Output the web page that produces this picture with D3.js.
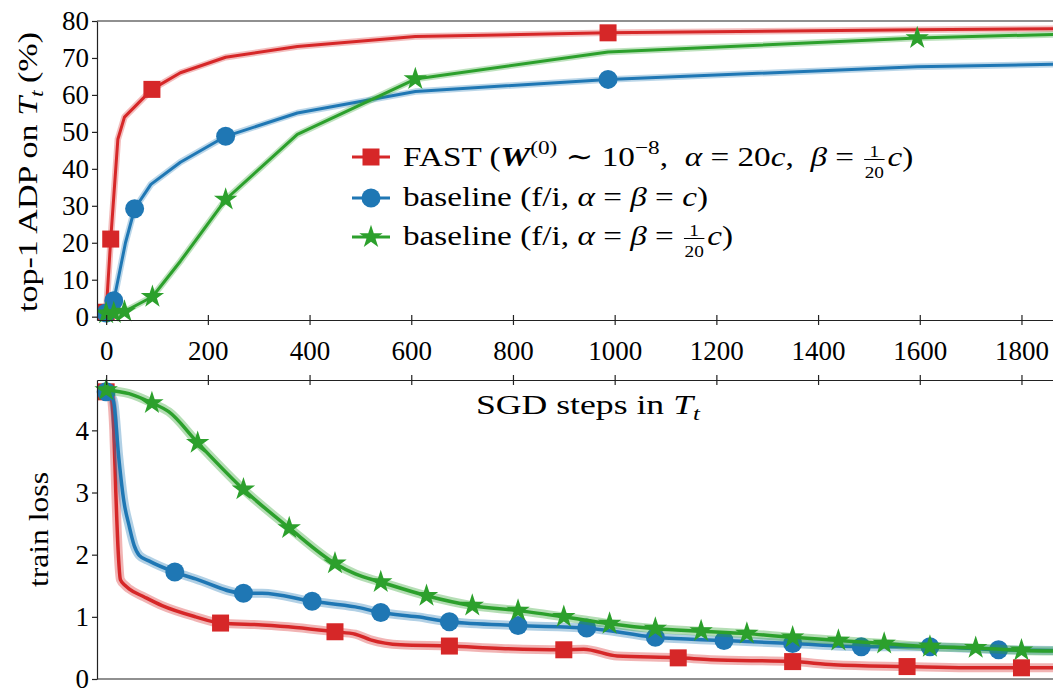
<!DOCTYPE html>
<html><head><meta charset="utf-8">
<script src="https://cdn.jsdelivr.net/npm/d3@7"></script>
<style>
body{margin:0;background:#fff}
svg{display:block}
text{font-family:"Liberation Serif","DejaVu Serif",serif;fill:#000;white-space:pre}
</style>
</head><body>
<svg id="c" width="1053" height="688"></svg>
<script>
// ---------------- DATA ----------------
const xTicks = [0, 200, 400, 600, 800, 1000, 1200, 1400, 1600, 1800];
const adpTicks = [0, 10, 20, 30, 40, 50, 60, 70, 80];
const lossTicks = [0, 1, 2, 3, 4];

// top panel: top-1 ADP (%)
const fastAdpSteps = [0, 9, 23, 36, 90, 146, 235, 376, 608, 987, 1595, 1870];
const fastAdp      = [1.2, 21, 48, 54, 61.5, 66, 70.2, 73.1, 75.8, 76.8, 77.6, 77.9];
const fastAdpMarks = [0, 9, 90, 987];

const baseAdpSteps = [0, 15, 38, 56, 88, 146, 235, 376, 608, 987, 1595, 1870];
const baseAdp      = [1, 4.3, 20, 29.2, 35.8, 41.8, 48.8, 55.1, 60.9, 64.2, 67.6, 68.3];
const baseAdpMarks = [0, 15, 56, 235, 987];

const smallAdpSteps = [0, 15, 36, 91, 146, 235, 376, 608, 987, 1595, 1870];
const smallAdp      = [0.9, 1.0, 1.4, 5.4, 15, 31.7, 49.3, 64.3, 71.6, 75.4, 76.4];
const smallAdpMarks = [0, 15, 36, 91, 235, 608, 1595];

// bottom panel: train loss
const fastLossSteps = [0, 9, 15, 19, 24, 28, 38, 45, 75, 110, 176, 225, 307, 373, 450, 490, 520, 579, 675, 776, 900, 939, 1005, 1125, 1189, 1350, 1431, 1575, 1693, 1800, 1870];
const fastLoss      = [4.62, 4.55, 4.0, 3.0, 2.0, 1.6, 1.5, 1.45, 1.32, 1.18, 1.0, 0.9, 0.87, 0.83, 0.76, 0.72, 0.63, 0.55, 0.53, 0.49, 0.47, 0.48, 0.37, 0.34, 0.31, 0.28, 0.23, 0.2, 0.18, 0.18, 0.18];
const fastLossMarks = [0, 225, 450, 675, 900, 1125, 1350, 1575, 1800];

const baseLossSteps = [0, 10, 15, 25, 35, 45, 55, 65, 84, 135, 176, 270, 307, 405, 490, 540, 612, 675, 810, 945, 1080, 1215, 1350, 1485, 1620, 1755, 1870];
const baseLoss      = [4.62, 4.55, 4.45, 3.55, 2.85, 2.47, 2.15, 1.99, 1.9, 1.72, 1.61, 1.38, 1.38, 1.25, 1.16, 1.07, 1.0, 0.92, 0.86, 0.82, 0.67, 0.62, 0.57, 0.52, 0.52, 0.47, 0.46];
const baseLossMarks = [0, 135, 270, 405, 540, 675, 810, 945, 1080, 1215, 1350, 1485, 1620, 1755];

const smallLossSteps = [0, 45, 90, 123, 180, 270, 360, 450, 490, 540, 630, 720, 810, 900, 990, 1080, 1170, 1260, 1350, 1440, 1530, 1620, 1710, 1800, 1870];
const smallLoss      = [4.65, 4.59, 4.44, 4.3, 3.8, 3.05, 2.43, 1.86, 1.69, 1.56, 1.34, 1.18, 1.1, 1.0, 0.89, 0.81, 0.77, 0.73, 0.67, 0.62, 0.57, 0.52, 0.5, 0.46, 0.45];
const smallLossMarks = [0, 90, 180, 270, 360, 450, 540, 630, 720, 810, 900, 990, 1080, 1170, 1260, 1350, 1440, 1530, 1620, 1710, 1800];

// ---------------- CHART ----------------
const RED = "#d62728", BLUE = "#1f77b4", GREEN = "#2ca02c";
const FS = 28, TFS = 27;
const svg = d3.select("#c");

const x = d3.scaleLinear().domain([-18, 1862]).range([97, 1053]);
const yTop = d3.scaleLinear().domain([-0.9, 80]).range([320, 21]);
const yBot = d3.scaleLinear().domain([0, 4.81]).range([679, 380]);

const series = [
  {color: RED,   shape: "square", adpS: fastAdpSteps,  adp: fastAdp,  adpM: fastAdpMarks,  lS: fastLossSteps,  l: fastLoss,  lM: fastLossMarks},
  {color: BLUE,  shape: "circle", adpS: baseAdpSteps,  adp: baseAdp,  adpM: baseAdpMarks,  lS: baseLossSteps,  l: baseLoss,  lM: baseLossMarks},
  {color: GREEN, shape: "star",   adpS: smallAdpSteps, adp: smallAdp, adpM: smallAdpMarks, lS: smallLossSteps, l: smallLoss, lM: smallLossMarks}
];

function drawMarker(g, shape, cx, cy, color) {
  if (shape === "square") {
    g.append("rect").attr("x", cx - 8.5).attr("y", cy - 8.5).attr("width", 17).attr("height", 17).attr("fill", color);
  } else if (shape === "circle") {
    g.append("circle").attr("cx", cx).attr("cy", cy).attr("r", 9.5).attr("fill", color);
  } else {
    g.append("path").attr("d", d3.symbol(d3.symbolStar, 170)()).attr("transform", `translate(${cx},${cy})`).attr("fill", color);
  }
}

svg.append("clipPath").attr("id", "clipTop").append("rect").attr("x", 97).attr("y", 0).attr("width", 960).attr("height", 330);
svg.append("clipPath").attr("id", "clipBot").append("rect").attr("x", 90).attr("y", 370).attr("width", 970).attr("height", 312);

// ---- top panel ----
const gTop = svg.append("g").attr("clip-path", "url(#clipTop)");
series.forEach(s => {
  const pts = s.adpS.map((st, i) => [st, s.adp[i]]);
  const line = d3.line().x(d => x(d[0])).y(d => yTop(d[1]));
  gTop.append("path").attr("d", line(pts)).attr("fill", "none").attr("stroke", s.color).attr("stroke-opacity", 0.3).attr("stroke-width", 6.5).attr("stroke-linejoin", "round");
  gTop.append("path").attr("d", line(pts)).attr("fill", "none").attr("stroke", s.color).attr("stroke-width", 3).attr("stroke-linejoin", "round");
  pts.filter(p => s.adpM.includes(p[0])).forEach(p => drawMarker(gTop, s.shape, x(p[0]), yTop(p[1]), s.color));
});

const fmt = d3.format("d");
const axL = svg.append("g").attr("transform", "translate(97,0)")
  .call(d3.axisLeft(yTop).tickValues(adpTicks).tickFormat(fmt).tickSize(5).tickSizeOuter(0).tickPadding(3));
const axB = svg.append("g").attr("transform", "translate(0,320)")
  .call(d3.axisBottom(x).tickValues(xTicks).tickFormat(fmt).tickSize(5).tickSizeOuter(0).tickPadding(16));
axB.selectAll(".tick line").attr("y1", -5).attr("y2", 5);
svg.append("line").attr("x1", 97).attr("x2", 1053).attr("y1", 21).attr("y2", 21).attr("stroke", "#222").attr("stroke-width", 1.2);

// ---- bottom panel ----
const gBot = svg.append("g").attr("clip-path", "url(#clipBot)");
series.forEach(s => {
  const pts = s.lS.map((st, i) => [st, s.l[i]]);
  const line = d3.line().x(d => x(d[0])).y(d => yBot(d[1])).curve(d3.curveMonotoneX);
  gBot.append("path").attr("d", line(pts)).attr("fill", "none").attr("stroke", s.color).attr("stroke-opacity", 0.35).attr("stroke-width", 9).attr("stroke-linejoin", "round");
  gBot.append("path").attr("d", line(pts)).attr("fill", "none").attr("stroke", s.color).attr("stroke-width", 3.5).attr("stroke-linejoin", "round");
  pts.filter(p => s.lM.includes(p[0])).forEach(p => drawMarker(gBot, s.shape, x(p[0]), yBot(p[1]), s.color));
});

const axL2 = svg.append("g").attr("transform", "translate(97,0)")
  .call(d3.axisLeft(yBot).tickValues(lossTicks).tickFormat(fmt).tickSize(5).tickSizeOuter(0).tickPadding(3));
const axT2 = svg.append("g").attr("transform", "translate(0,380)")
  .call(d3.axisTop(x).tickValues(xTicks).tickSize(5).tickSizeOuter(0).tickFormat(""));
axT2.selectAll(".tick line").attr("y1", -5).attr("y2", 5);
svg.append("line").attr("x1", 97).attr("x2", 1053).attr("y1", 679).attr("y2", 679).attr("stroke", "#222").attr("stroke-width", 1.2);

svg.selectAll(".domain").attr("stroke", "#222").attr("stroke-width", 1.2);
svg.selectAll(".tick line").attr("stroke", "#222").attr("stroke-width", 1.2);
svg.selectAll(".tick text").attr("font-size", TFS).attr("font-family", "Liberation Serif, serif").attr("fill", "#000");
axL.selectAll(".tick text").attr("dy", "0.33em");
axL2.selectAll(".tick text").attr("dy", "0.33em");

// ---- rich text helper (draws at origin, returns width) ----
function rich(g, parts, fs) {
  let cx = 0;
  parts.forEach(p => {
    if (p.frac) {
      const f = fs * 0.58;
      const t1 = g.append("text").attr("font-size", f).text(p.frac[0]);
      const t2 = g.append("text").attr("font-size", f).text(p.frac[1]);
      const w = Math.max(t1.node().getComputedTextLength(), t2.node().getComputedTextLength());
      const pad = 2, mid = cx + pad + w / 2;
      t1.attr("x", mid).attr("y", -9.5).attr("text-anchor", "middle");
      t2.attr("x", mid).attr("y", 12).attr("text-anchor", "middle");
      g.append("line").attr("x1", cx + pad - 0.5).attr("x2", cx + pad + w + 0.5).attr("y1", -6.5).attr("y2", -6.5).attr("stroke", "#000").attr("stroke-width", 1);
      cx += w + 2 * pad + 1;
    } else {
      const size = p.sup || p.sub ? fs * 0.7 : fs;
      const dy = p.sup ? -fs * 0.42 : (p.sub ? fs * 0.2 : 0);
      const t = g.append("text").attr("x", cx).attr("y", dy).attr("font-size", size).text(p.t);
      if (p.i) t.attr("font-style", "italic");
      if (p.b) t.attr("font-weight", "bold");
      cx += t.node().getComputedTextLength() + (p.after || 0);
    }
  });
  return cx;
}
// place rich text: start x, baseline y, horizontal stretch
function richAt(parent, x0, yb, parts, fs, sx, rotate) {
  const g = parent.append("g");
  const inner = g.append("g");
  const w = rich(inner, parts, fs);
  return {g, inner, w};
}

// y label (top): fit to reference span
{
  const parts = [{t: "top-1 ADP on "}, {t: "T", i: true}, {t: "t", i: true, sub: true, after: 6}, {t: "(%)"}];
  const g = svg.append("g");
  const inner = g.append("g");
  const w = rich(inner, parts, FS);
  const target = 280, sx = target / w;
  inner.attr("transform", `scale(${sx},1) translate(${-w / 2},0)`);
  g.attr("transform", "translate(37,172) rotate(-90)");
}
// train loss
{
  const g = svg.append("g");
  const inner = g.append("g");
  const w = rich(inner, [{t: "train loss"}], FS);
  const sx = 115 / w;
  inner.attr("transform", `scale(${sx},1) translate(${-w / 2},0)`);
  g.attr("transform", "translate(48,529.5) rotate(-90)");
}
// x label
{
  const g = svg.append("g");
  const inner = g.append("g");
  const w = rich(inner, [{t: "SGD steps in "}, {t: "T", i: true}, {t: "t", i: true, sub: true}], FS);
  const sx = 224 / w;
  inner.attr("transform", `scale(${sx},1)`);
  g.attr("transform", "translate(476,414)");
}

// ---- legend ----
const legend = [
  {s: series[0], y: 157, base: 166, parts: [
    {t: "FAST ("}, {t: "W", i: true, b: true}, {t: "(0)", sup: true}, {t: " ∼ 10"}, {t: "−8", sup: true}, {t: ",  "},
    {t: "α", i: true}, {t: " = 20"}, {t: "c", i: true}, {t: ",  "}, {t: "β", i: true}, {t: " = "}, {frac: ["1", "20"]}, {t: "c", i: true}, {t: ")"}]},
  {s: series[1], y: 198, base: 206, parts: [
    {t: "baseline (f/i, "}, {t: "α", i: true}, {t: " = "}, {t: "β", i: true}, {t: " = "}, {t: "c", i: true}, {t: ")"}]},
  {s: series[2], y: 237, base: 245, parts: [
    {t: "baseline (f/i, "}, {t: "α", i: true}, {t: " = "}, {t: "β", i: true}, {t: " = "}, {frac: ["1", "20"]}, {t: "c", i: true}, {t: ")"}]}
];
const gLeg = svg.append("g");
const legRows = legend.map(L => {
  gLeg.append("line").attr("x1", 352).attr("x2", 390).attr("y1", L.y).attr("y2", L.y).attr("stroke", L.s.color).attr("stroke-width", 3);
  drawMarker(gLeg, L.s.shape, 371, L.y, L.s.color);
  const g = gLeg.append("g").attr("transform", `translate(403,${L.base})`);
  const inner = g.append("g");
  const w = rich(inner, L.parts, FS);
  return {inner, w};
});
const legSx = 305 / legRows[1].w;
legRows.forEach(r => r.inner.attr("transform", `scale(${legSx},1)`));
</script>
</body></html>
